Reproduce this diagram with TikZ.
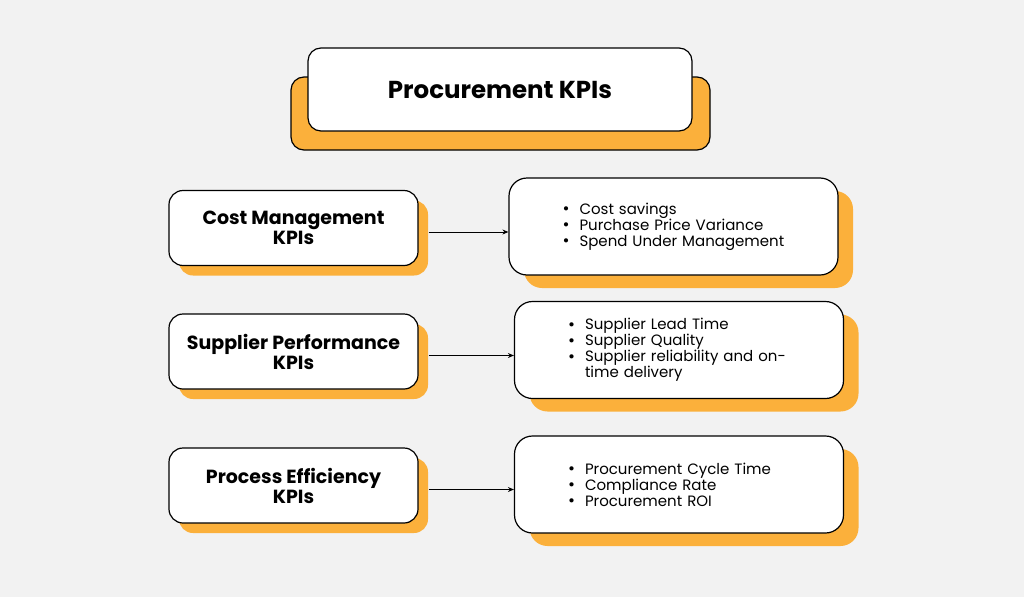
\documentclass[tikz,border=0pt]{standalone}
\usepackage{fontspec}
\setmainfont{Poppins}
\usepackage{tikz}
\usetikzlibrary{shadows,arrows.meta}
\definecolor{kpiorange}{HTML}{FBB03B}
\definecolor{kpibg}{HTML}{F2F2F2}
\newcommand{\kpiitem}[1]{\makebox[17pt][l]{\smash{\raisebox{-0.5pt}{\fontsize{17}{16}\selectfont\textbullet}}}#1}

\begin{document}
\begin{tikzpicture}[
    x=1pt,
    y=-1pt,
    >={Stealth[length=6pt,width=5pt]},
    line width=1.2pt,
    title node/.style={draw,fill=white,rounded corners=13pt,minimum width=384pt,minimum height=83pt,font=\bfseries\fontsize{24.5}{28}\selectfont},
    back node/.style={draw,fill=kpiorange,rounded corners=13pt,minimum width=419pt,minimum height=73pt},
    group node/.style={draw,fill=white,rounded corners=14pt,align=center,minimum width=249pt,minimum height=75pt,
      font=\bfseries\fontsize{19}{20}\selectfont,
      copy shadow={shadow xshift=10pt,shadow yshift=-10pt,fill=kpiorange,draw=none}},
    list node/.style={draw,fill=white,rounded corners=18pt,align=left,text width=222pt,minimum width=329pt,minimum height=97pt,
      font=\fontsize{15}{16}\selectfont,
      copy shadow={shadow xshift=15pt,shadow yshift=-13pt,fill=kpiorange,draw=none}},
    link/.style={->,line width=1pt,shorten <=10pt}
    ]

    \fill[kpibg] (0,0) rectangle (1024,597);
    \useasboundingbox (0,0) rectangle (1024,597);

    % title
    \node[back node] (titleback) at (500.5,113.5) {};
    \node[title node] (title) at (500,89.5) {Procurement KPIs};

    % left column
    \node[group node] (cost) at (293.5,228) {Cost Management\\KPIs};
    \node[group node] (supplier) at (293.5,351.5) {Supplier Performance\\KPIs};
    \node[group node] (process) at (293.5,485.5) {Process Efficiency\\KPIs};

    % right column
    \node[list node] (costlist) at (673.5,226.5) {\kpiitem{Cost savings}\\
      \kpiitem{Purchase Price Variance}\\
      \kpiitem{Spend Under Management}};
    \node[list node] (supplierlist) at (679,350) {\kpiitem{Supplier Lead Time}\\
      \kpiitem{Supplier Quality}\\
      \kpiitem{Supplier reliability and on-}\\
      \hspace*{17pt}time delivery};
    \node[list node] (processlist) at (679,484.5) {\kpiitem{Procurement Cycle Time}\\
      \kpiitem{Compliance Rate}\\
      \kpiitem{Procurement ROI}};

    \draw[link] ([yshift=-4pt]cost.east) -- ([yshift=-4pt]cost.east -| costlist.west);
    \draw[link] ([yshift=-4pt]supplier.east) -- ([yshift=-4pt]supplier.east -| supplierlist.west);
    \draw[link] ([yshift=-4pt]process.east) -- ([yshift=-4pt]process.east -| processlist.west);
  \end{tikzpicture}
\end{document}
